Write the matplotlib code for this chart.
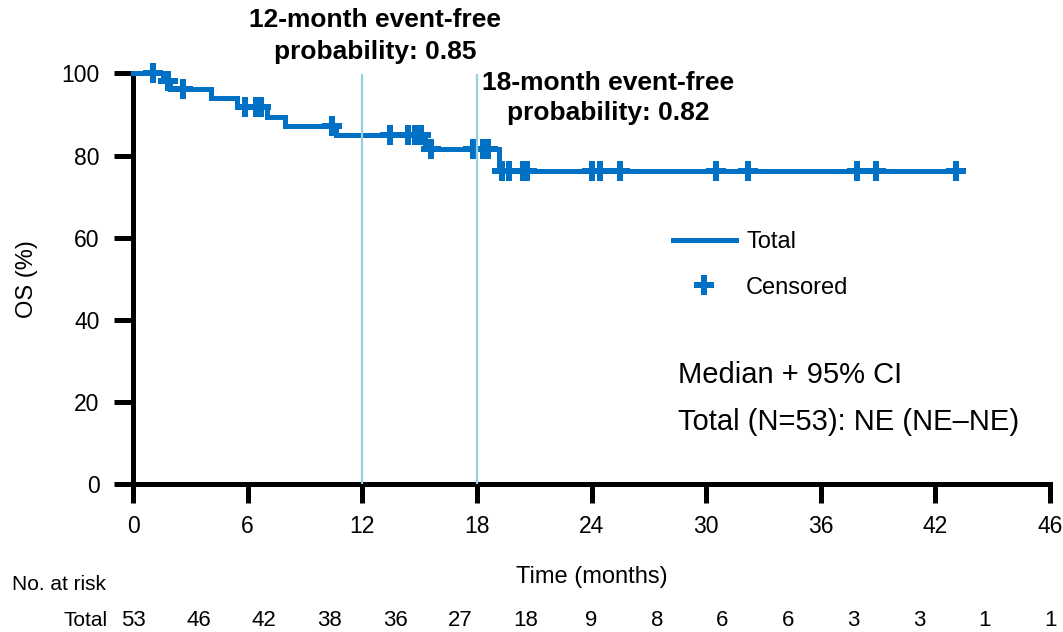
import numpy as np
import matplotlib
matplotlib.use("Agg")
import matplotlib.pyplot as plt
from matplotlib.lines import Line2D
import matplotlib.transforms as mtransforms

plt.rcParams['font.family'] = ['Liberation Sans', 'DejaVu Sans']

# ---- data ----
step_times = [0, 1.55, 1.95, 4.1, 5.45, 7.0, 7.95, 10.65, 15.3, 19.15]
step_surv = [100, 98.1, 96.2, 94.0, 91.8, 89.5, 87.2, 84.9, 81.6, 76.3]
censor_times = [1.06, 1.85, 2.63, 5.85, 6.45, 6.7, 10.4, 13.45, 14.4, 14.75,
                15.05, 15.6, 17.8, 18.3, 18.6, 19.3, 19.7, 20.4, 20.6, 24.0,
                24.45, 25.5, 30.5, 32.2, 37.9, 38.9, 43.1]
end_time = 43.1
landmarks = [12, 18]
landmark_probs = [0.85, 0.82]
xtick_pos = [0, 6, 12, 18, 24, 30, 36, 42, 48]
xtick_labels = ['0', '6', '12', '18', '24', '30', '36', '42', '46']
yticks = [0, 20, 40, 60, 80, 100]
risk_counts = [53, 46, 42, 38, 36, 27, 18, 9, 8, 6, 6, 3, 3, 1, 1]

BLUE = '#0071C5'
LIGHT = '#93CFDF'
W, H = 1063, 632

fig = plt.figure(figsize=(W / 100, H / 100), dpi=100)
ax = fig.add_axes([133 / W, 1 - 484 / H, (1050 - 133) / W, (484 - 73.5) / H])

def fx(px):
    return px / W

def fy(py):
    return 1 - py / H

# KM curve
t = list(step_times) + [end_time]
s = list(step_surv) + [step_surv[-1]]
ax.step(t, s, where='post', color=BLUE, lw=3.6, clip_on=False, zorder=3,
        solid_joinstyle='miter')

# censor marks
ct = np.array(censor_times)
idx = np.searchsorted(np.array(step_times), ct, side='right') - 1
cy = np.array(step_surv)[idx]
ax.plot(ct, cy, linestyle='none', marker='P', markersize=14, color=BLUE,
        markeredgewidth=0, clip_on=False, zorder=4)

# landmark lines
for lm in landmarks:
    ax.axvline(lm, ymin=0, ymax=1, color=LIGHT, lw=1.6, zorder=5)

# axes styling
ax.set_xlim(0, 48)
ax.set_ylim(0, 100)
ax.set_xticks(xtick_pos)
ax.set_xticklabels(xtick_labels)
ax.set_yticks(yticks)
for sp in ['top', 'right']:
    ax.spines[sp].set_visible(False)
for sp in ['left', 'bottom']:
    ax.spines[sp].set_linewidth(3.6)
    ax.spines[sp].set_capstyle('projecting')
ax.tick_params(axis='both', direction='out', length=14, width=3.6,
               labelsize=16.5, color='black')
ax.tick_params(axis='x', pad=8)
ax.tick_params(axis='y', pad=10)

ax.set_xlabel('Time (months)', fontsize=17)
ax.xaxis.label.set_va('center')
ax.xaxis.set_label_coords(0.5, (H - 577 - (H - 484)) / (484 - 73.5))
ax.set_ylabel('OS (%)', fontsize=17)
ax.yaxis.label.set_va('center')
ax.yaxis.set_label_coords((27 - 133) / (1050 - 133), 0.5)

# landmark annotations
fig.text(fx(375), fy(36), '12-month event-free\nprobability: {:.2f}'.format(landmark_probs[0]),
         ha='center', va='center', fontsize=19, fontweight='bold', linespacing=1.38)
fig.text(fx(608), fy(98), '18-month event-free\nprobability: {:.2f}'.format(landmark_probs[1]),
         ha='center', va='center', fontsize=19, fontweight='bold', linespacing=1.3)

# legend
handles = [Line2D([], [], color=BLUE, lw=3.6),
           Line2D([], [], color=BLUE, linestyle='none', marker='P', markersize=14,
                  markeredgewidth=0)]
fig.legend(handles, ['Total', 'Censored'], loc='upper left',
           bbox_to_anchor=(fx(673), fy(231)), frameon=False, fontsize=17,
           handlelength=2.65, handletextpad=0.45, labelspacing=1.0,
           borderpad=0, borderaxespad=0)

# median text
fig.text(fx(678), fy(375), 'Median + 95% CI', ha='left', va='center', fontsize=21)
fig.text(fx(678), fy(422), 'Total (N=53): NE (NE\u2013NE)', ha='left', va='center', fontsize=21)

# risk table
fig.text(fx(12), fy(584), 'No. at risk', ha='left', va='center', fontsize=15)
fig.text(fx(108), fy(620), 'Total', ha='right', va='center', fontsize=15)
trans = mtransforms.blended_transform_factory(ax.transData, fig.transFigure)
n = len(risk_counts)
for i, c in enumerate(risk_counts):
    ax.text(i * 48 / (n - 1), fy(620), str(c), transform=trans, ha='center',
            va='center', fontsize=16, clip_on=False)

fig.savefig('out.png', dpi=100)
